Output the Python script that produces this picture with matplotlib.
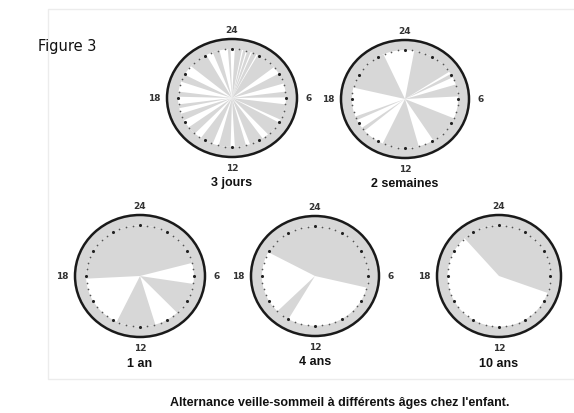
import numpy as np
import matplotlib
matplotlib.use("Agg")
import matplotlib.pyplot as plt
from matplotlib.patches import Circle, Wedge

# ------------------------------------------
# Data : sleep periods (start hour, end hour), clockwise, 24 at top
# ------------------------------------------

titles = ["3 jours", "2 semaines", "1 an", "4 ans", "10 ans"]

sommeil_3_jours = [(0.2, 0.7), (0.8, 1.0), (1.1, 1.35), (1.45, 1.8), (1.9, 3.4),
                   (4.0, 4.85), (5.5, 5.95), (6.5, 7.75), (8.0, 9.2), (9.7, 10.7),
                   (11.0, 11.8), (12.1, 12.95), (13.4, 14.35), (14.9, 15.55),
                   (16.2, 16.75), (17.2, 17.5), (18.1, 18.5), (19.3, 19.9),
                   (20.7, 22.1), (22.6, 23.1), (23.7, 23.9)]
sommeil_2_semaines = [(0.67, 3.75), (3.95, 4.25), (4.85, 5.8), (7.55, 9.85),
                      (11.0, 13.65), (15.3, 15.6), (16.3, 16.6), (18.9, 22.4)]
sommeil_1_an = [(17.8, 29.0), (6.6, 9.1), (10.9, 13.7)]
sommeil_4_ans = [(19.9, 30.9), (14.0, 15.0)]
sommeil_10_ans = [(21.2, 31.3)]

sommeil = [sommeil_3_jours, sommeil_2_semaines, sommeil_1_an,
           sommeil_4_ans, sommeil_10_ans]

hour_labels = ["24", "6", "12", "18"]

caption = "Alternance veille-sommeil à différents âges chez l'enfant."

# ------------------------------------------
# Layout (pixels : centre x, centre y, half width, half height)
# ------------------------------------------

W, H = 574, 414
boxes = [(232, 99, 65, 59), (405, 100, 64, 59),
         (140, 277, 65, 61), (315, 277, 64, 60), (499, 277, 62, 61)]

GREY = "#d7d7d7"
R_IN = 0.83

fig = plt.figure(figsize=(W / 100, H / 100), dpi=100)
fig.patch.set_facecolor("white")

bg = fig.add_axes([0, 0, 1, 1])
bg.set_xlim(0, W)
bg.set_ylim(H, 0)
bg.axis("off")

# faint page frame
bg.plot([W, 48, 48, W], [10, 10, 380, 380], color="#ececec", lw=1)

bg.text(38, 46, "Figure 3", fontsize=10.5, family="DejaVu Sans",
        va="center", ha="left", color="#111111")
bg.text(340, 403, caption, fontsize=9, family="Liberation Sans",
        fontweight="bold", ha="center", va="center", color="#111111")

# ------------------------------------------
# Clocks
# ------------------------------------------

dot_hours = np.arange(0, 24, 0.5)
big = (dot_hours % 2) == 0

for (cx, cy, hw, hh), title, periods in zip(boxes, titles, sommeil):
    ax = fig.add_axes([(cx - hw) / W, 1 - (cy + hh) / H, 2 * hw / W, 2 * hh / H])
    ax.set_xlim(-1, 1)
    ax.set_ylim(-1, 1)
    ax.axis("off")

    ax.add_patch(Circle((0, 0), 1, fc=GREY, ec="#1a1a1a", lw=1.8, clip_on=False))
    ax.add_patch(Circle((0, 0), R_IN, fc="white", ec="none"))

    for h1, h2 in periods:
        ax.add_patch(Wedge((0, 0), R_IN, 90 - 15 * h2, 90 - 15 * h1,
                           fc=GREY, ec="none"))

    ang = np.deg2rad(dot_hours * 15)
    dx = R_IN * np.sin(ang)
    dy = R_IN * np.cos(ang)
    ax.scatter(dx[big], dy[big], s=5, color="#222222", zorder=3, lw=0)
    ax.scatter(dx[~big], dy[~big], s=1.5, color="#555555", zorder=3, lw=0)

    style = dict(fontsize=6.5, fontweight="bold", color="#333333",
                 ha="center", va="center", clip_on=False)
    ax.text(0, 1.16, hour_labels[0], **style)
    if cx + hw * 1.18 < W - 8:
        ax.text(1.18, 0, hour_labels[1], **style)
    ax.text(0, -1.18, hour_labels[2], **style)
    ax.text(-1.2, 0, hour_labels[3], **style)

    ax.text(0, -1.42, title, fontsize=9, fontweight="bold", family="Liberation Sans",
            color="#111111", ha="center", va="center", clip_on=False)

fig.savefig("out.png", dpi=100)
